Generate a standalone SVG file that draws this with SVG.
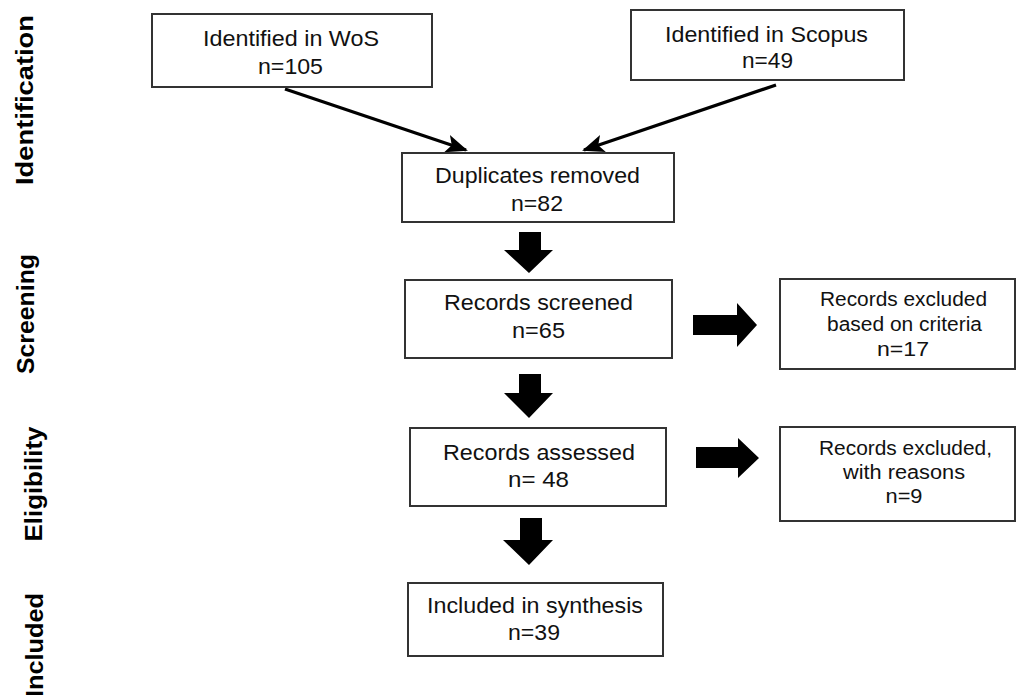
<svg xmlns="http://www.w3.org/2000/svg" width="1016" height="695" viewBox="0 0 1016 695">
  <defs>
    <marker id="ah" markerUnits="userSpaceOnUse" markerWidth="22" markerHeight="18" viewBox="0 0 22 18" refX="20" refY="9" orient="auto">
      <path d="M0,0 L22,9 L0,18 L5,9 Z" fill="#000"/>
    </marker>
    <style>
      .box { fill: #fff; stroke: #333; stroke-width: 2; }
      .t { font-family: "Liberation Sans", Arial, sans-serif; font-size: 22px; fill: #111; text-anchor: middle; }
      .s { font-size: 20px; }
      .lab { font-family: "Liberation Sans", Arial, sans-serif; font-size: 24px; font-weight: bold; fill: #000; text-anchor: middle; }
      .blk { fill: #000; }
      .ln { stroke: #000; stroke-width: 3.2; fill: none; }
    </style>
  </defs>
  <rect width="1016" height="695" fill="#fff"/>

  <g id="labels">
    <text class="lab" transform="translate(33,100) rotate(-90)" textLength="170" lengthAdjust="spacingAndGlyphs">Identification</text>
    <text class="lab" transform="translate(34,314) rotate(-90)" textLength="120" lengthAdjust="spacingAndGlyphs">Screening</text>
    <text class="lab" transform="translate(42,484) rotate(-90)" textLength="115" lengthAdjust="spacingAndGlyphs">Eligibility</text>
    <text class="lab" transform="translate(43,593) rotate(-90)" style="text-anchor:end" textLength="104" lengthAdjust="spacingAndGlyphs">Included</text>
  </g>

  <g id="connectors">
    <line class="ln" x1="285" y1="89" x2="466" y2="150" marker-end="url(#ah)"/>
    <line class="ln" x1="776" y1="85" x2="584" y2="150" marker-end="url(#ah)"/>
    <path class="blk" d="M519,232 H541 V250 H553 L529,273 L504,250 H519 Z"/>
    <path class="blk" d="M519,374 H541 V393 H553 L529,418 L504,393 H519 Z"/>
    <path class="blk" d="M520,518 H542 V540 H553 L529,565 L503,540 H520 Z"/>
    <path class="blk" d="M693,315 H737 V303 L757,325 L737,347 V335 H693 Z"/>
    <path class="blk" d="M696,447 H738 V438 L759,458 L738,478 V468 H696 Z"/>
  </g>

  <g id="wos">
    <rect class="box" x="152" y="14" width="280" height="73"/>
    <text class="t" x="291" y="46" textLength="176" lengthAdjust="spacingAndGlyphs">Identified in WoS</text>
    <text class="t" x="290.5" y="74" textLength="65" lengthAdjust="spacingAndGlyphs">n=105</text>
  </g>

  <g id="scopus">
    <rect class="box" x="631" y="10" width="273" height="70"/>
    <text class="t" x="766.5" y="42" textLength="203" lengthAdjust="spacingAndGlyphs">Identified in Scopus</text>
    <text class="t" x="767.5" y="68" textLength="51" lengthAdjust="spacingAndGlyphs">n=49</text>
  </g>

  <g id="duplicates">
    <rect class="box" x="402" y="153" width="272" height="69"/>
    <text class="t" x="537.5" y="183" textLength="205" lengthAdjust="spacingAndGlyphs">Duplicates removed</text>
    <text class="t" x="537" y="211" textLength="52" lengthAdjust="spacingAndGlyphs">n=82</text>
  </g>

  <g id="screened">
    <rect class="box" x="405" y="280" width="267" height="78"/>
    <text class="t" x="538.5" y="310" textLength="189" lengthAdjust="spacingAndGlyphs">Records screened</text>
    <text class="t" x="538.5" y="338" textLength="53" lengthAdjust="spacingAndGlyphs">n=65</text>
  </g>

  <g id="excluded-criteria">
    <rect class="box" x="780" y="279" width="235" height="90"/>
    <text class="t s" x="903.5" y="306" textLength="167" lengthAdjust="spacingAndGlyphs">Records excluded</text>
    <text class="t s" x="904.5" y="331" textLength="155" lengthAdjust="spacingAndGlyphs">based on criteria</text>
    <text class="t s" x="903" y="356" textLength="52" lengthAdjust="spacingAndGlyphs">n=17</text>
  </g>

  <g id="assessed">
    <rect class="box" x="410" y="428" width="256" height="78"/>
    <text class="t" x="539" y="460" textLength="192" lengthAdjust="spacingAndGlyphs">Records assessed</text>
    <text class="t" x="538.5" y="487" textLength="61" lengthAdjust="spacingAndGlyphs">n= 48</text>
  </g>

  <g id="excluded-reasons">
    <rect class="box" x="780" y="427" width="235" height="94"/>
    <text class="t s" x="905.5" y="455" textLength="173" lengthAdjust="spacingAndGlyphs">Records excluded,</text>
    <text class="t s" x="904" y="479" textLength="122" lengthAdjust="spacingAndGlyphs">with reasons</text>
    <text class="t s" x="904" y="503" textLength="37" lengthAdjust="spacingAndGlyphs">n=9</text>
  </g>

  <g id="included">
    <rect class="box" x="408" y="583" width="255" height="73"/>
    <text class="t" x="535" y="613" textLength="216" lengthAdjust="spacingAndGlyphs">Included in synthesis</text>
    <text class="t" x="534" y="640" textLength="52" lengthAdjust="spacingAndGlyphs">n=39</text>
  </g>
</svg>
